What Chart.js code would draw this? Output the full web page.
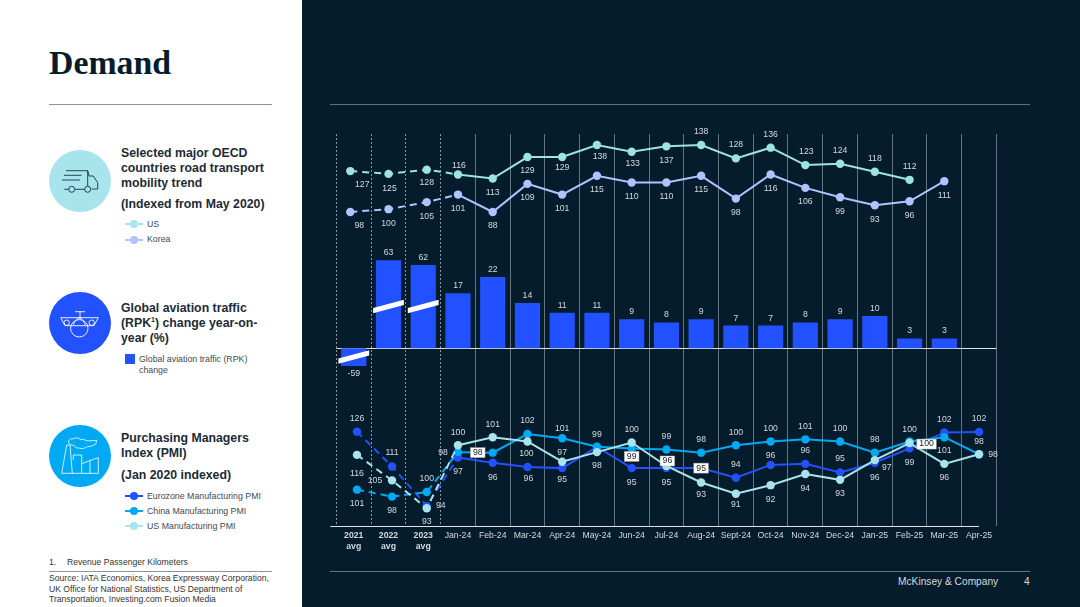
<!DOCTYPE html>
<html>
<head>
<meta charset="utf-8">
<title>Demand</title>
<script src="https://cdn.jsdelivr.net/npm/chart.js@4/dist/chart.umd.js"></script>
<style>
    html, body { margin: 0; padding: 0; width: 1080px; height: 607px; overflow: hidden; background: #051c2c; font-family: "Liberation Sans", Arial, sans-serif; }
    #panel { position: absolute; left: 0; top: 0; width: 302px; height: 607px; background: #fff; }
    #panel div, #panel span.a, .foot { position: absolute; white-space: nowrap; }
    #title { left: 49px; top: 42px; font: bold 33.8px/42px "Liberation Serif", serif; color: #051c2c; }
    .rule { height: 1px; background: #8c9296; }
    .head { left: 121px; font-weight: bold; font-size: 12.3px; line-height: 15px; color: #1c2b36; }
    .leg { font-size: 8.8px; line-height: 11px; color: #3d4a54; }
    .note { font-size: 8.6px; line-height: 10.6px; color: #333; }
    sup { font-size: 7px; line-height: 0; }
    .swatch { left: 125px; width: 18px; height: 2px; }
    .swatch::after { content: ""; position: absolute; left: 5px; top: -3px; width: 8px; height: 8px; border-radius: 50%; background: inherit; }
    svg { position: absolute; }
    #chartBox { position: absolute; left: 302px; top: 0; }
    .frule { position: absolute; left: 330px; width: 700px; height: 1px; background: #5c7678; }
    .foot { color: #d5dadd; font-size: 10.2px; line-height: 12px; }
</style>
</head>
<body>
<div id="panel">
    <div id="title">Demand</div>
    <div class="rule" style="left:49px;top:104px;width:223px"></div>

    <svg style="left:49px;top:150px" width="62" height="62" viewBox="0 0 62 62" fill="none" stroke="#051c2c" stroke-width=".8">
        <circle cx="31" cy="31" r="31" fill="#a8e4ec" stroke="none"/>
        <path d="M17 20.700h21.700l1.300 5.300h4.300l4.400 6.700V39h-6M26 39.300h9.700M15 25.300h17.700M13 30h18M15.300 39.300h4.400M38.700 20.700V36"/>
        <circle cx="22.700" cy="39.300" r="3"/><circle cx="38.700" cy="39.300" r="3"/>
    </svg>
    <div class="head" style="top:145.5px">Selected major OECD<br>countries road transport<br>mobility trend</div>
    <div class="head" style="top:196.5px">(Indexed from May 2020)</div>
    <div class="swatch" style="top:223px;background:#a8e4ec"></div>
    <div class="leg" style="left:147px;top:218.5px">US</div>
    <div class="swatch" style="top:238.500px;background:#afc3ff"></div>
    <div class="leg" style="left:147px;top:234px">Korea</div>

    <svg style="left:49px;top:292px" width="62" height="62" viewBox="0 0 62 62" fill="none" stroke="#fff" stroke-width=".9">
        <circle cx="31" cy="31" r="31" fill="#2251ff" stroke="none"/>
        <circle cx="30.300" cy="36.300" r="8.700"/>
        <path d="M26 19.700h10M31 19.700v6.600M11.700 25.700h37.600M11.700 25.700l4.300 8h6.700M49.300 25.700l-4.300 8h-6.700M22.700 33.700h15.600M24.300 33c1.500-4 3.500-6.700 6-6.700s4.500 2.700 6 6.700"/>
        <circle cx="17.700" cy="30.700" r="2.700"/><circle cx="42.700" cy="30.700" r="2.700"/>
    </svg>
    <div class="head" style="top:300.5px">Global aviation traffic<br>(RPK<sup>1</sup>) change year-on-<br>year (%)</div>
    <div style="left:125px;top:354px;width:9.500px;height:9.500px;background:#2251ff"></div>
    <div class="leg" style="left:139px;top:353.500px">Global aviation traffic (RPK)<br>change</div>

    <svg style="left:49px;top:425px" width="62" height="62" viewBox="0 0 62 62" fill="none" stroke="#fff" stroke-width=".8">
        <circle cx="31" cy="31" r="31" fill="#00a9f4" stroke="none"/>
        <path d="M12.700 48.300L17.700 20H21l2.300 28.300M12.700 48.300h36.600V32.700L41 35.500V48.300M41 35.500l-8.300 3.200v9.600M32.700 38.700V30h-8.400v5M19.300 16.700c1-2.400 3-3.400 5-2.900 2.500-1.500 6-1 7 .7 3-1.200 5 1.500 8 1.300 3 .2 6-.3 8.400-.4-.2 2-1 3.600-2 4.600-3 .3-4 2-7 1.500-3 2-6 2.500-8.700 1.500-2.500.5-4-1-5-2.500-2.500 0-5.700-2-5.700-3.800z"/>
    </svg>
    <div class="head" style="top:430.5px">Purchasing Managers<br>Index (PMI)</div>
    <div class="head" style="top:467.5px">(Jan 2020 indexed)</div>
    <div class="swatch" style="top:495px;background:#2251ff"></div>
    <div class="leg" style="left:147px;top:490.500px">Eurozone Manufacturing PMI</div>
    <div class="swatch" style="top:510px;background:#00a9f4"></div>
    <div class="leg" style="left:147px;top:505.500px">China Manufacturing PMI</div>
    <div class="swatch" style="top:525px;background:#a8e4ec"></div>
    <div class="leg" style="left:147px;top:520.500px">US Manufacturing PMI</div>

    <div class="note" style="left:49px;top:556.5px">1.</div>
    <div class="note" style="left:67px;top:556.5px">Revenue Passenger Kilometers</div>
    <div class="rule" style="left:49px;top:571px;width:223px"></div>
    <div class="note" style="left:49px;top:573px">Source: IATA Economics, Korea Expressway Corporation,<br>UK Office for National Statistics, US Department of<br>Transportation, Investing.com Fusion Media</div>
</div>

<div class="frule" style="top:104px"></div>
<div class="frule" style="top:571px"></div>
<div class="foot" style="left:898px;top:576px">McKinsey &amp; Company</div>
<div class="foot" style="left:1024px;top:576px">4</div>

<div id="chartBox"><canvas id="demandChart" width="778" height="607"></canvas></div>

<script>
const categories = [['2021', 'avg'], ['2022', 'avg'], ['2023', 'avg'], 'Jan-24', 'Feb-24', 'Mar-24', 'Apr-24', 'May-24', 'Jun-24', 'Jul-24', 'Aug-24', 'Sept-24', 'Oct-24', 'Nov-24', 'Dec-24', 'Jan-25', 'Feb-25', 'Mar-25', 'Apr-25'];

// road mobility
const usRoad = [127, 125, 128, 116, 113, 129, 129, 138, 133, 137, 138, 128, 136, 123, 124, 118, 112, null, null];
const koreaRoad = [98, 100, 105, 101, 88, 109, 101, 115, 110, 110, 115, 98, 116, 106, 99, 93, 96, 111, null];

// aviation RPK change
const rpkChange = [-59, 63, 62, 17, 22, 14, 11, 11, 9, 8, 9, 7, 7, 8, 9, 10, 3, 3, null];

// PMI, decimals estimated from the dots, the picture prints them rounded
const euroPmi = [126, 111, 94, 97.4, 96.4, 95.6, 95.4, 99.4, 95.4, 95.4, 95.4, 93.6, 96, 96.2, 94.6, 96.4, 99.1, 102.1, 102.2];
const chinaPmi = [101, 98, 100, 98.4, 98.3, 101.8, 101, 99.4, 99.1, 98.9, 98.3, 99.7, 100.4, 100.8, 100.4, 98.3, 100.4, 101.2, 98];
const usPmi = [116, 105, 93, 99.7, 101.2, 100.4, 96.6, 98.4, 100.2, 95.8, 92.7, 90.6, 92.2, 94.3, 93.2, 96.9, 100.1, 96.2, 98];

// label offsets from their dot, [dx, dy] in px
const usRoadLabels = [[12, 13.6], [1, 14.7], [0, 13], [1, -9], [0, 14], [0, 13.7], [0, 11], [3, 12], [1, 11.7], [0, 14], [0, -13], [0, -13.3], [0, -13.3], [1, -13.3], [0, -13], [0, -13], [0, -13.3]];
const koreaRoadLabels = usRoad.map((v, i) => i === 0 ? [9, 14] : [0, 14]);
const euroLabels = [[0, -13], [0, -13.4], [14, 0], [0, 14], [0, 14.4], [1, 11.7], [0, 11.4], [0, -12.4], [0, 14.4], [0, 14], [0, 0], [0, -13.4], [0, -9.3], [0, -13.3], [0, -13.3], [0, 14.4], [0, 14], [0, -13], [0, -13.4]];
const chinaLabels = [[0, 13.6], [0, 13.7], [0, -13], [-15, 0], [-15, 0], [0, -13.3], [0, -10], null, [0, 8], [0, -12.6], [0, -12.7], [0, -12.7], [0, -12.7], [0, -12.6], [0, -13], [0, -13], [0, -12.3], [0, 13.7], [0, -13]];
const usPmiLabels = [[0, 19], [-17, 0], [0, 13.7], [0, -13], [0, -13], [-1, 12], [0, -9.6], [0, 13.6], [0, -12.7], [1, -5], [0, 11.6], [0, 10.6], [0, 14], [0, 14.3], [0, 13.7], [12, 7.3], [17, 1], [0, 13.3], [14, 0]];

const dashedUntil = 3;
const avgTopDx = [-3.5, 0, 3.5];
const avgPmiDx = [3.2, 3.5, 3.5];

// bar axis has a break: [value, plotted value]
const rpkBreaks = [[-59, -5.46], [0, 0], [22, 22], [62, 25.7], [63, 27.2]];
const brokenBars = [[0, 8.7], [1, -41.8], [2, -41.8]];

class BrokenLinearScale extends Chart.LinearScale {
    getPixelForValue(value) {
        const k = rpkBreaks;
        let plotted = value;
        for (let i = 1; i < k.length; i++) {
            if (value <= k[i][0]) {
                plotted = k[i - 1][1] + (value - k[i - 1][0]) / (k[i][0] - k[i - 1][0]) * (k[i][1] - k[i - 1][1]);
                break;
            }
        }
        return super.getPixelForValue(plotted);
    }
}
BrokenLinearScale.id = 'brokenLinear';
BrokenLinearScale.defaults = Chart.LinearScale.defaults;
Chart.register(BrokenLinearScale);

const textColor = '#d5dadd';
const labelFont = '8.7px "Liberation Sans"';

function lineSet(name, data, color, axis, avgAxis, avgDx, labels, boxed, order) {
    return {
        type: 'line', label: name, data: data, yAxisID: axis, avgAxis: avgAxis, avgDx: avgDx,
        valueLabels: labels, boxed: boxed, order: order,
        borderColor: color, backgroundColor: color, borderWidth: 2,
        pointRadius: 4.2, pointHoverRadius: 4.2, pointBorderWidth: 0, tension: 0, spanGaps: false,
        segment: { borderDash: ctx => ctx.p0DataIndex < dashedUntil ? [7, 5] : undefined }
    };
}

// the avg columns sit on their own condensed scale
const avgColumns = {
    id: 'avgColumns',
    afterDatasetsUpdate(chart) {
        chart.data.datasets.forEach((ds, d) => {
            if (!ds.avgAxis) return;
            const points = chart.getDatasetMeta(d).data;
            for (let i = 0; i < dashedUntil; i++) {
                points[i].y = chart.scales[ds.avgAxis].getPixelForValue(ds.data[i]);
                points[i].x += ds.avgDx[i];
            }
        });
    }
};

const axisLines = {
    id: 'axisLines',
    beforeDatasetsDraw(chart) {
        const { ctx, chartArea, scales } = chart;
        const zero = Math.round(scales.yBars.getPixelForValue(0)) + 0.5;
        ctx.save();
        ctx.strokeStyle = '#dfe3e5';
        ctx.lineWidth = 1;
        ctx.beginPath();
        ctx.moveTo(chartArea.left, zero);
        ctx.lineTo(chartArea.right, zero);
        ctx.moveTo(chartArea.left - 6, chartArea.bottom + 0.5);
        ctx.lineTo(scales.x.getPixelForValue(categories.length - 1), chartArea.bottom + 0.5);
        ctx.stroke();
        ctx.restore();
    }
};

const valueLabels = {
    id: 'valueLabels',
    afterDatasetsDraw(chart) {
        const { ctx, scales } = chart;
        const barMeta = chart.getDatasetMeta(chart.data.datasets.findIndex(ds => ds.type === 'bar'));
        const zero = scales.yBars.getPixelForValue(0);
        ctx.save();
        // white slanted break marks on the cut bars
        ctx.fillStyle = '#fff';
        brokenBars.forEach(([i, dy]) => {
            const x = barMeta.data[i].x, y = zero + dy;
            ctx.beginPath();
            ctx.moveTo(x - 15.4, y + 1.6);
            ctx.lineTo(x + 15.4, y - 6.8);
            ctx.lineTo(x + 15.4, y - 1.6);
            ctx.lineTo(x - 15.4, y + 6.8);
            ctx.closePath();
            ctx.fill();
        });
        ctx.font = labelFont;
        ctx.textAlign = 'center';
        ctx.textBaseline = 'middle';
        chart.data.datasets.forEach((ds, d) => {
            const els = chart.getDatasetMeta(d).data;
            ds.data.forEach((v, i) => {
                if (v === null) return;
                const off = ds.valueLabels ? ds.valueLabels[i] : [0, v < 0 ? 8 : -7.5];
                if (!off) return;
                const text = String(Math.round(v));
                const x = els[i].x + off[0], y = els[i].y + off[1];
                if (ds.boxed && ds.boxed.includes(i)) {
                    const w = ctx.measureText(text).width + 5;
                    ctx.fillStyle = '#fff';
                    ctx.strokeStyle = '#9aa3a8';
                    ctx.lineWidth = 0.5;
                    ctx.fillRect(x - w / 2, y - 5, w, 10);
                    ctx.strokeRect(x - w / 2, y - 5, w, 10);
                    ctx.fillStyle = '#222';
                } else {
                    ctx.fillStyle = textColor;
                }
                ctx.fillText(text, x, y);
            });
        });
        ctx.restore();
    }
};

new Chart(document.getElementById('demandChart'), {
    type: 'bar',
    data: {
        labels: categories,
        datasets: [
            lineSet('US', usRoad, '#9be4df', 'yRoad', 'yRoadAvg', avgTopDx, usRoadLabels, [], 1),
            lineSet('Korea', koreaRoad, '#afc3ff', 'yRoad', 'yRoadAvg', avgTopDx, koreaRoadLabels, [], 2),
            {
                type: 'bar', label: 'Global aviation traffic (RPK) change', data: rpkChange, yAxisID: 'yBars', order: 6,
                backgroundColor: '#2251ff', categoryPercentage: 1, barPercentage: 0.725, borderSkipped: false
            },
            lineSet('US Manufacturing PMI', usPmi, '#a8e4ec', 'yPmi', 'yPmiAvg', avgPmiDx, usPmiLabels, [9, 16], 3),
            lineSet('China Manufacturing PMI', chinaPmi, '#00a9f4', 'yPmi', 'yPmiAvg', avgPmiDx, chinaLabels, [4, 8], 4),
            lineSet('Eurozone Manufacturing PMI', euroPmi, '#2251ff', 'yPmi', 'yPmiAvg', avgPmiDx, euroLabels, [10], 5)
        ]
    },
    options: {
        responsive: false,
        animation: false,
        events: [],
        layout: { padding: { left: 34.4, right: 83.6, top: 134, bottom: 0 } },
        plugins: { legend: { display: false }, tooltip: { enabled: false }, title: { display: false } },
        scales: {
            x: {
                type: 'category',
                offset: true,
                afterFit: scale => { scale.height = 81; },
                grid: {
                    offset: true,
                    drawTicks: false,
                    lineWidth: 1,
                    color: ctx => ctx.index <= dashedUntil ? 'rgba(225,232,235,.6)' : 'rgba(205,215,220,.48)'
                },
                border: {
                    display: false,
                    dash: ctx => ctx.index <= dashedUntil ? [2, 2] : []
                },
                ticks: {
                    autoSkip: false,
                    maxRotation: 0,
                    padding: 4,
                    color: textColor,
                    font: ctx => ({ family: '"Liberation Sans"', size: 8.7, lineHeight: 1.27, weight: ctx.index < dashedUntil ? 'bold' : 'normal' })
                }
            },
            yRoad: { display: false, min: -146.3, max: 146.2 },
            yRoadAvg: { display: false, min: -124.7, max: 153.3 },
            yBars: { type: 'brokenLinear', display: false, min: -54.8, max: 66.1 },
            yPmi: { display: false, min: 84.54, max: 158.09 },
            yPmiAvg: { display: false, min: 85.34, max: 254.3 }
        }
    },
    plugins: [avgColumns, axisLines, valueLabels]
});
</script>
</body>
</html>
